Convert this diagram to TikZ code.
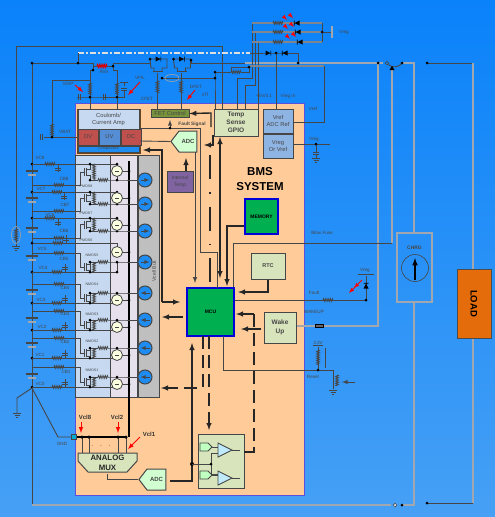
\documentclass[tikz,border=0pt]{standalone}
\usepackage{fontspec}
\setmainfont{Liberation Sans}
\usetikzlibrary{positioning,shapes.symbols,decorations.pathmorphing}
\definecolor{bgtop}{HTML}{0A82FA}
\definecolor{bgbot}{HTML}{46A0F5}
\definecolor{peach}{HTML}{FFCC99}
\definecolor{edgeblue}{HTML}{5A50E0}
\definecolor{dark}{HTML}{464646}
\definecolor{railgray}{HTML}{A2A6AE}
\definecolor{palegreen}{HTML}{D8E4BC}
\definecolor{paleblue}{HTML}{C6D9F1}
\definecolor{midblue}{HTML}{8EB4E3}
\definecolor{mcugreen}{HTML}{00B050}
\definecolor{lavender}{HTML}{E6E0EC}
\definecolor{alarmred}{HTML}{C0504D}
\definecolor{alarmblue}{HTML}{558ED5}
\definecolor{purpleblock}{HTML}{8064A2}
\definecolor{olivefet}{HTML}{77933C}
\definecolor{loadorange}{HTML}{E46C0A}
\definecolor{meterblue}{HTML}{1E8CF0}
\newcommand{\resh}[2]{\draw [coil] (#1-5,#2) -- (#1+5,#2);}
\newcommand{\resv}[2]{\draw [coil] (#1,#2-6) -- (#1,#2+6);}
\newcommand{\gnd}[2]{\draw [wire] (#1-4,#2) -- (#1+4,#2) (#1-2.5,#2+2) -- (#1+2.5,#2+2) (#1-1,#2+4) -- (#1+1,#2+4);}
\newcommand{\batt}[1]{\draw [dark, line width=1.4pt] (26,#1-2) -- (38,#1-2); \draw [railgray, line width=1.2pt] (28,#1+2) -- (36,#1+2);}
\newcommand{\diode}[3]{\fill [black, shift={(#1,#2)}, rotate=#3] (-2.5pt,-2.5pt) -- (2.5pt,0pt) -- (-2.5pt,2.5pt) -- cycle (2.5pt,-2.5pt) rectangle (3.2pt,2.5pt);}
\newcommand{\capv}[2]{\draw [wire] (#1-3,#2) -- (#1+3,#2) (#1-3,#2+2) -- (#1+3,#2+2);}
\newcommand{\caph}[2]{\draw [wire] (#1,#2-3) -- (#1,#2+3) (#1+2,#2-3) -- (#1+2,#2+3);}
\begin{document}
\begin{tikzpicture}[x=1pt, y=-1pt, node distance = 0pt]
    \tikzstyle{wire} = [draw=dark, line width=0.9pt]
    \tikzstyle{rail} = [draw=railgray, line width=1.6pt]
    \tikzstyle{bus} = [draw=black!85, line width=1.4pt]
    \tikzstyle{coil} = [draw=dark, line width=0.7pt, decorate, decoration={zigzag, segment length=1.8pt, amplitude=1.4pt}]
    \tikzstyle{block} = [draw=dark, line width=1pt, inner sep=0pt, align=center, text=dark, font=\fontsize{5.8}{7.5}\selectfont]
    \tikzstyle{gpio} = [block, fill=palegreen, font=\fontsize{6.5}{8.2}\selectfont\bfseries]
    \tikzstyle{chip} = [block, draw=blue!85!black, line width=1.2pt, fill=mcugreen, text=black, font=\fontsize{5}{6}\selectfont\bfseries]
    \tikzstyle{lbl} = [inner sep=0pt, text=dark, font=\fontsize{4.6}{5.5}\selectfont]
    \tikzstyle{vcl} = [inner sep=0pt, text=black!80, font=\fontsize{6}{7}\selectfont\bfseries]
    \tikzstyle{dot} = [circle, fill=black, inner sep=0pt, minimum size=3pt]
    \tikzstyle{sw} = [circle, draw=dark, line width=0.8pt, fill=green!15!yellow!12!white, inner sep=0pt, minimum size=11pt]
    \tikzstyle{meter} = [circle, draw=dark, line width=1pt, fill=meterblue, inner sep=0pt, minimum size=14pt]
    \tikzstyle{adc} = [block, fill=green!18, signal, signal to=west, signal pointer angle=105, font=\fontsize{6}{7}\selectfont\bfseries]

    \useasboundingbox (0,0) rectangle (495,517);
    \shade [top color=bgtop, bottom color=bgbot] (0,0) rectangle (495,517);

    \node [draw=edgeblue, line width=1pt, fill=peach, inner sep=0pt, minimum width=229pt, minimum height=392pt] (BMS) at (189.5,299) {};

    % junctions
    \foreach \n/\x/\y in {Batt/32/63, Dash/78/63, Rsa/93/70, Rsb/113/66, Sen/90/97, Sep/117/97, Vb/52/137, Fa/150/63,
        Fm/170/60, Fb/191/60, Th/162/78, Ga/215/72, Gb/215/78, Gc/249/67, Ra/276/53, Rb/298/63, Ld/322/32,
        Sa/378/63, Sb/402/63, Sd/427/63, Tp/316/144, Ft/366/300, Rs/318/370, Fs/170/128, Ca/192/464, Cb/211/464,
        Xa/32/505, Xb/402/505, Xd/427/503}
        \coordinate (\n) at (\x,\y);

    % outer power rails
    \draw [wire] (16,228) -- (16,46) -- (222,46) -- (222,109);
    \draw [rail, dash pattern=on 6pt off 2pt on 2pt off 2pt, draw=white!75!gray] (Dash |- 0,53) -- (250,53);
    \draw [wire] (Dash |- 0,53) -- (Dash);
    \draw [wire] (Xa) -- (Batt) -- (93,63) -- (Rsa) -- (90,70) -- (90,110);
    \draw [wire] (93,66) -- (97,66) (107,66) -- (Rsb) -- (113,70) -- (117,70) -- (117,110);
    \draw [coil, draw=red!85!black, line width=1pt] (97,66) -- (107,66);
    \draw [wire] (Rsb) -- (113,63) -- (Fa);
    \draw [wire] (90,80) -- (52,80) -- (Vb) -- (77,137) (Vb) -- (44,137);
    \draw [wire] (77,97) -- (Sen) -- (Sep);
    \draw [wire] (Sep) -- (124,97) -- (124,90);
    \draw [wire] (Fb) -- (191,63) -- (245,63);
    \draw [rail] (245,63) -- (Sa);
    \draw [rail] (Xa) -- (391,505);
    \node [circle, draw=dark, fill=white, line width=0.7pt, inner sep=0pt, minimum size=3.5pt] (Xo) at (395,505) {};
    \draw [rail] (Sa) -- (383,63);
    \node [circle, draw=dark, line width=0.7pt, inner sep=0pt, minimum size=3.5pt] (So) at (387,63) {};
    \draw [wire] (So) to [bend right=50] (Sb);
    \draw [rail] (Sb) -- (414,63) -- (414,233);
    \draw [rail] (Xb) -- (414,505) -- (414,302);
    \draw [wire] (Sd) -- (473,63);
    \draw [rail] (473,63) -- (473,269);
    \draw [rail] (473,338) -- (473,503);
    \draw [wire] (Xd) -- (473,503);
    \draw [rail] (Sa) -- (378,326) -- (296,326);
    \draw [rail] (392,70) -- (392,243);
    \draw [wire] (392,243) -- (233,243) -- (233,288);
    \fill [black] (392,66) -- (389.5,70) -- (394.5,70) -- cycle;

    % FET pair
    \foreach \x/\f in {0/A, 23.5/B} {
        \draw [wire] (150+\x,59) -- (167+\x,59) -- (167+\x,68) -- (162+\x,68) -- (162+\x,71) (154+\x,71) -- (154+\x,68) -- (151+\x,68) -- (150+\x,59);
        \draw [wire] (153+\x,71) -- (163+\x,71);
        \draw [wire] (157.5+\x,73) -- (157.5+\x,110);
        \diode{158+\x}{59}{0}
        \resv{157.5+\x}{87}
        \node [dot] (F\f) at (150+\x,59) {};
    }
    \draw [wire] (Th) -- (Gb) -- (Ga) -- (215,109);
    \draw [draw=dark!50!white, line width=0.6pt] (172,78) ellipse (7pt and 3.5pt);
    \draw [wire] (Ga) -- (231,72) (241,72) -- (249,72) -- (Gc);
    \resh{236}{72}
    \draw [wire] (Gc) -- (231,67) -- (231,72);
    \draw [wire] (237,109) -- (237,78) -- (252,78) -- (252,23);
    \draw [wire] (245,109) -- (245,85) -- (255,85) -- (255,32);
    \draw [wire] (258,109) -- (258,42);
    \draw [rail, draw=railgray!80!black] (250,66) -- (324,66);
    \draw [wire] (324,66) -- (324,122) -- (293,122);

    % status LEDs
    \foreach \y/\d in {23/297, 32/298, 42/300} {
        \draw [rail, draw=railgray!80!black, line width=1.2pt] (252,\y) -- (322,\y);
        \resh{278}{\y}
        \diode{\d}{\y}{180}
        \draw [red, -latex, line width=0.8pt] (\d-8,\y-9) -- (\d-4,\y-5);
        \draw [red, -latex, line width=0.8pt] (\d-14,\y-7) -- (\d-10,\y-3);
    }
    \draw [wire] (322,23) -- (322,42) (Ld) -- (332,32);
    \draw [rail] (332,26) -- (332,38);
    \draw [wire] (250,53) -- (Ra) -- (298,53) -- (Rb);
    \draw [wire] (Ra) -- (276,109);
    \diode{268}{53}{0}
    \diode{285}{53}{180}

    % Vref and Vreg
    \draw [wire] (293,144) -- (330,144) (Tp) -- (316,152);
    \capv{316}{152}
    \draw [wire] (316,154) -- (316,158);
    \gnd{316}{158}

    % cell stack
    \node [draw=dark, line width=0.8pt, fill=paleblue, inner sep=0pt, minimum width=35pt, minimum height=242pt] (Cells) at (92.5,276) {};
    \node [draw=dark, line width=0.8pt, fill=lavender, inner sep=0pt, minimum width=27pt, minimum height=242pt, right = of Cells] (Sws) {};
    \node [draw=dark, line width=0.8pt, fill=black!25, inner sep=0pt, minimum width=21pt, minimum height=242pt, right = of Sws] (Meters) {};
    \node [lbl, rotate=90, font=\fontsize{5}{6}\selectfont] (VcellBus) at (154,271) {Vcell Bus};
    \draw [black, line width=1.8pt] (129,161) -- (129,437);

    \foreach \y in {173, 200, 230, 258, 292, 320, 345, 376} {
        \batt{\y}
    }
    \foreach \y/\r/\k/\e in {164/50/58/8, 192/57/64/8, 218/50/58/8, 243/58/66/-8, 272/57/65/-8, 303/57/65/-8, 330/57/65/-8, 358/57/65/-8, 387/57/65/-8} {
        \draw [wire] (32,\y) -- (75,\y);
        \resh{\r}{\y}
        \draw [wire] (\k,\y) -- (\k,\y+\e);
        \capv{\k}{\y+\e*0.6}
        \node [dot] (VCd\y) at (32,\y) {};
    }
    \draw [wire] (75,243) -- (117,243) -- (117,252);
    \foreach \i/\s/\m/\v/\c in {8/171/180/164/185, 7/198/204/192/211, 6/225/231/218/238, 5/252/262/272/253, 4/300/293/303/284, 3/327/320/330/311, 2/355/348/358/338, 1/384/377/387/367} {
        \pgfmathsetmacro{\g}{(\m+\v)/2}
        \pgfmathsetmacro{\r}{\i>4 ? 0 : 180}
        \coordinate (V\i) at (32,\v);
        \coordinate (C\i) at (32,\c);
        \coordinate (D\i) at (90,\m);
        \coordinate (E\i) at (90,\v);
        \coordinate (N\i) at (117,\m);
        \coordinate (B\i) at (129,\s);
        \draw [wire] (V\i) -- (117,\v) -- (N\i);
        \draw [wire] (C\i) -- (80,\c) -- (80,\g) -- (84,\g);
        \resh{59}{\c}
        \draw [wire] (84,\g-4) -- (84,\g+4) (86,\g-4) -- (86,\g+4);
        \draw [wire] (86,\g-3) -- (90,\g-3) -- (E\i |- 0,\v) (86,\g+3) -- (90,\g+3) -- (D\i);
        \draw [coil] (94,\v) -- (94,\m);
        \draw [wire] (D\i) -- (98,\m) (108,\m) -- (N\i) -- (138,\m);
        \resh{103}{\m}
        \draw [wire] (117,\s) -- (B\i);
        \node [dot] at (D\i) {};
        \node [dot] at (E\i) {};
        \node [dot] at (N\i) {};
        \node [dot] at (B\i) {};
        \node [dot] at (117,\v) {};
        \node [sw] (SW\i) at (117,\s) {};
        \draw [dark, line width=0.6pt] (115,\s) -- (119,\s);
        \node [meter] (M\i) at (145,\m) {};
        \draw [-latex, dark, line width=0.8pt, shift={(145,\m)}, rotate=\r] (-4.5pt,0pt) -- (4.5pt,0pt);
    }
    \foreach \n/\x/\y in {PMOS8/86/186, PMOS7/86/213, PMOS6/86/240, NMOS5/92/255, NMOS4/92/284, NMOS3/92/314, NMOS2/92/341, NMOS1/92/370}
        \node [lbl, font=\fontsize{3.6}{4}\selectfont] (L\n) at (\x,\y) {\n};
    \foreach \n/\x/\y in {VC8/40/158, CB8/64/179, VC7/41/189, CB7/65/205, VC6/50/215, CB6/64/231, VC5/42/249, CB5/64/259, VC4/43/268, CB4/65/288, VC3/41/300, CB3/65/314, VC2/42/327, CB2/65/342, VC1/40/355, CB1/66/372, VC0/40/384}
        \node [lbl] (L\n) at (\x,\y) {\n};
    \draw [wire] (32,388) -- (17,398) -- (17,413);
    \gnd{17}{413}
    \draw [wire] (32,388) -- (58,437) -- (74,437);
    \draw [wire] (16,228) -- (16,246);
    \draw [coil] (16,229) -- (16,241);
    \draw [draw=dark!50!white, line width=0.6pt] (16,235) ellipse (4.5pt and 8.5pt);
    \gnd{16}{246}

    % left top details
    \resv{90}{89}
    \resv{117}{89}
    \resv{52}{130}
    \caph{78}{97}
    \caph{40}{137}
    \caph{103}{97}
    \capv{124}{88}
    \draw [wire] (124,86) -- (124,82) (120,82) -- (128,82);

    % main blocks
    \node [draw=black!45!brown, line width=1pt, fill=peach, inner sep=0pt, minimum width=63pt, minimum height=44pt] (AmpBox) at (108.5,131) {};
    \node [block, fill=paleblue, minimum width=61pt, minimum height=20pt] (Coulomb) at (108.5,119.5) {Coulomb/\\Current Amp};
    \node [block, fill=alarmred, minimum width=20pt, minimum height=16pt] (OV) at (88,137) {OV};
    \node [block, fill=alarmblue, minimum width=21pt, minimum height=16pt, right = of OV] (UV) {UV};
    \node [block, fill=alarmred, minimum width=20pt, minimum height=16pt, right = of UV] (OC) {OC};
    \node [block, fill=meterblue, line width=0.6pt, minimum width=61pt, minimum height=6pt, font=\fontsize{3.5}{4}\selectfont] (Comparators) at (108.5,149) {Comparators};
    \node [block, fill=olivefet, line width=0.6pt, minimum width=38pt, minimum height=8pt] (FETControl) at (170,113.5) {FET Control};
    \node [gpio, minimum width=44pt, minimum height=27pt] (TempSense) at (236,122.5) {Temp\\Sense\\GPIO};
    \node [block, fill=midblue, minimum width=30pt, minimum height=24pt] (VrefBlock) at (278,121) {Vref\\ADC Ref};
    \node [block, fill=midblue, minimum width=30pt, minimum height=24pt, below = of VrefBlock] (VregBlock) {Vreg\\Or Vref};
    \node [adc, minimum width=26pt, minimum height=21pt] (ADCa) at (188,141.5) {ADC};
    \node [block, fill=purpleblock, minimum width=26pt, minimum height=21pt, font=\fontsize{5}{6.5}\selectfont] (IntTemp) at (180,181.5) {Internal\\Temp};
    \node [chip, minimum width=33pt, minimum height=35pt] (Memory) at (261.5,216.5) {MEMORY};
    \node [gpio, minimum width=34pt, minimum height=26pt, font=\fontsize{5.5}{7}\selectfont\bfseries] (RTC) at (268,266) {RTC};
    \node [chip, minimum width=47pt, minimum height=48pt] (MCU) at (210.5,312) {MCU};
    \node [gpio, minimum width=32pt, minimum height=31pt, font=\fontsize{6.5}{8.5}\selectfont\bfseries] (WakeUp) at (280,327.5) {Wake\\Up};
    \node [inner sep=0pt, align=center, text=black, font=\fontsize{11.5}{15}\selectfont\bfseries] (Title) at (260,179) {BMS\\SYSTEM};
    \node [draw=black!70, line width=0.8pt, fill=loadorange, inner sep=0pt, minimum width=34pt, minimum height=69pt] (LOAD) at (474,303.5) {};
    \node [rotate=-90, inner sep=0pt, font=\fontsize{9.5}{11}\selectfont\bfseries] (LoadText) at (474,303.5) {LOAD};
    \node [rail, inner sep=0pt, minimum width=35pt, minimum height=69pt] (CHRG) at (414.5,267.5) {};
    \node [lbl, font=\fontsize{5}{6}\selectfont\bfseries] (ChrgText) at (414.5,248) {CHRG};
    \node [circle, draw=dark, line width=0.6pt, inner sep=0pt, minimum size=27pt] (Dial) at (415,268) {};
    \draw [-latex, black, line width=1.5pt] (Dial.center |- 0,280) -- (Dial.center |- 0,258);

    % block signals
    \draw [bus, -latex] (211,127) -- (211,113) -- (FETControl.east);
    \draw [wire, -latex] (Fs) -- (170,120);
    \draw [wire] (Coulomb.east |- Fs) -- (200,128) -- (200,252) -- (217,252) -- (217,288);
    \draw [wire] (140,141) -- (ADCa.west);
    \draw [bus, -latex] (162,302) -- (162,150) -- (143,150);
    \draw [bus, -latex] (162,302) -- (180,302);
    \draw [bus, -latex] (183,317) -- (162,317);
    \draw [bus, dash pattern=on 13pt off 6pt, -latex] (197,388) -- (161,388);
    \draw [bus, -latex] (IntTemp.north -| 186,171) -- (186,158);
    \draw [wire, line width=1pt, -latex] (195,152) -- (195,283);
    \draw [bus, -latex] (213,135) -- (213,145) -- (204,145);
    \draw [bus, dash pattern=on 24pt off 13pt on 1.5pt off 13pt] (210,155) -- (210,288);
    \draw [bus, latex-latex] (220,137) -- (220,278);
    \draw [bus, -latex] (Memory.west |- 0,226) -- (227,226) -- (227,286);
    \draw [bus, -latex] (RTC.south) |- (238,292);
    \draw [bus, -latex] (254,314) -- (236,314);
    \draw [bus, -latex] (261,329) -- (241,329);
    \draw [bus, dash pattern=on 13pt off 6pt] (254,314) -- (254,452) -- (244,452);
    \draw [bus, dash pattern=on 13pt off 6pt] (203,336) -- (203,388);
    \draw [bus, dash pattern=on 13pt off 6pt, -latex] (209,336) -- (209,430);
    \draw [wire] (MCU.east |- Ft) -- (Ft) -- (366,276);
    \draw [wire] (358,274) -- (374,274);
    \diode{366}{286}{90}
    \foreach \x/\y in {349/285, 354/280}
        \draw [red, -latex, line width=0.8pt] (\x+8,\y) -- (\x,\y+8);
    \resh{328}{300}
    \draw [black, fill=black!60] (315,324.5) rectangle (323,327.5);
    \draw [wire] (223,336) -- (223,370) -- (333,370) -- (333,375);
    \draw [wire] (Rs) -- (318,347) (313,345) -- (323,345);
    \draw [coil] (318,350) -- (318,365);
    \draw [draw=dark, line width=0.5pt] (325,348) -- (325,368);
    \draw [coil] (337,375) -- (337,386);
    \draw [wire] (333,375) -- (333,389);
    \gnd{333}{390}
    \draw [wire, -latex] (355,382) -- (342,382);

    % analog mux and comparators
    \draw [black, line width=1.8pt] (74,437) -- (127,437);
    \foreach \x in {82, 89, 118, 126} {
        \draw [wire, line width=1pt] (\x,437) -- (\x,453);
        \node [dot, minimum size=3.5pt] at (\x,437) {};
    }
    \node [inner sep=0pt] (Dots) at (101,446) {\fontsize{7}{8}\selectfont$\cdot\;\;\cdot\;\;\cdot$};
    \node [fill=cyan!80!green, draw=dark, line width=0.6pt, inner sep=0pt, minimum size=4.5pt] (GND) at (74,437) {};
    \draw [wire, line width=1pt, fill=palegreen] (78,453) -- (137,453) -- (137,461) -- (127,472) -- (88,472) -- (78,461) -- cycle;
    \node [inner sep=0pt, align=center, text=black!85, font=\fontsize{7.8}{10.5}\selectfont\bfseries] (MUX) at (107.5,463) {ANALOG\\MUX};
    \node [adc, minimum width=27pt, minimum height=21pt] (ADCb) at (156.5,479.5) {ADC};
    \draw [wire] (107,474) -- (107,479.5) -- (ADCb.west);
    \draw [bus] (170,481) -- (192,481) -- (192,350);
    \draw [bus, -latex] (192,360) -- (192,343);
    \node [dot, minimum size=4pt] (CaDot) at (Ca) {};
    \node [block, fill=palegreen, minimum width=46pt, minimum height=54pt] (Compare) at (221,461) {};
    \draw [bus] (244,452) -- (254,452);
    \draw [wire] (Ca) -- (Cb) (211,453) -- (211,474);
    \node [dot] (CbDot) at (Cb) {};
    \foreach \y in {450, 478} {
        \draw [wire, fill=green!25] (200,\y-7) -- (208,\y-7) -- (212,\y-3) -- (208,\y+1) -- (200,\y+1) -- cycle;
        \draw [wire, fill=cyan!25] (218,\y-7) -- (232,\y) -- (218,\y+7) -- cycle;
        \draw [wire] (232,\y) -- (240,\y) (212,\y-3) -- (218,\y-3);
    }
    \draw [wire] (211,453) -- (218,453) (211,474) -- (218,474);

    % red callouts
    \draw [red, -latex, line width=1pt] (81,422) -- (81,433);
    \draw [red, -latex, line width=1pt] (118,422) -- (118,433);
    \draw [red, -latex, line width=1pt] (140,437) -- (128,449);
    \draw [red, -latex, line width=0.9pt] (75,85) -- (83,92);
    \draw [red, -latex, line width=0.9pt] (140,82) -- (128,95);
    \draw [red, -latex, line width=0.9pt] (195,90) -- (187,100);

    % junction dots
    \foreach \p in {Batt, Dash, Rsa, Rsb, Sen, Sep, Vb, Fb, Th, Ga, Gb, Gc, Ra, Rb, Ld, Sa, Sb, Sd, Tp, Ft, Rs, Fs, Xb, Xd}
        \node [dot] at (\p) {};

    % labels
    \foreach \n/\t/\x/\y in {Rsh/Rsh/104/72, Vdip/VDIP/68/84, Vfil/VFIL/140/78, Cfet/CFET/147/99, Dfet/DFET/196/87, Stf/sTf/205/95,
        Vbat/VBAT/65/132, Fiv/{+5V/4.1}/264/96, Vregin/Vreg In/288/96, Vrefl/Vref/313/109, Vregr/Vreg/314/139, Vregt/Vreg/344/32,
        Blow/Blow Fuse/322/233, Vregf/Vreg/365/270, Fault/Fault/314/293, Wake/WAKEUP/314/312, Three/3.3V/318/343, Reset/Reset/313/377, Gnd/GND/62/444}
        \node [lbl] (L\n) at (\x,\y) {\t};
    \node [lbl, font=\fontsize{4.8}{6}\selectfont\bfseries] (LFault) at (192,124) {Fault Signal};
    \node [vcl] (LVcl8) at (85,417) {Vcl8};
    \node [vcl] (LVcl2) at (117,417) {Vcl2};
    \node [vcl] (LVcl1) at (149,434) {Vcl1};
\end{tikzpicture}
\end{document}
